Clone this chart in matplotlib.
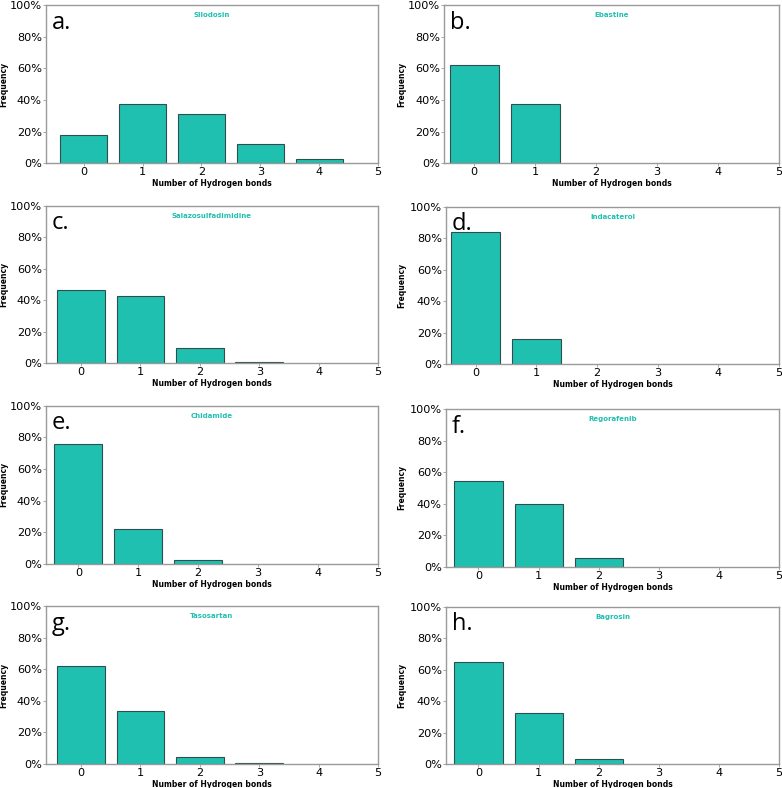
import matplotlib
matplotlib.use('Agg')
import matplotlib.pyplot as plt
from matplotlib.ticker import PercentFormatter

# Hydrogen-bond count distributions (fraction, %), one list per compound
letters = ['a.', 'b.', 'c.', 'd.', 'e.', 'f.', 'g.', 'h.']
names = ['Silodosin', 'Ebastine', 'Salazosulfadimidine', 'Indacaterol',
         'Chidamide', 'Regorafenib', 'Tasosartan', 'Bagrosin']
silodosin = [18.1, 37.3, 31.0, 12.0, 2.6]
ebastine = [62.3, 37.7]
salazosulfadimidine = [46.8, 43.0, 9.6, 0.6]
indacaterol = [84.2, 15.8]
chidamide = [75.8, 21.8, 2.4]
regorafenib = [54.5, 40.0, 5.5]
tasosartan = [61.8, 33.5, 4.3, 0.4]
bagrosin = [64.6, 32.2, 3.2]
series = [silodosin, ebastine, salazosulfadimidine, indacaterol,
          chidamide, regorafenib, tasosartan, bagrosin]
xticks = [0, 1, 2, 3, 4, 5]
yticks = [0, 20, 40, 60, 80, 100]

W, H = 782, 788
# axes boxes in pixels: left, top, right, bottom
boxes = [
    (46, 5, 378, 163.3), (444.3, 5, 779, 163.3),
    (46, 205.7, 378, 363.3), (446, 206.7, 779, 364.3),
    (46, 405.7, 378, 563.7), (446, 409, 779, 566.7),
    (46, 606, 378, 764), (446, 606.7, 779, 764),
]

teal = '#20C0B0'
spine_col = '#9a9a9a'

fig = plt.figure(figsize=(W / 100, H / 100), dpi=100)

for i, vals in enumerate(series):
    l, t, r, b = boxes[i]
    ax = fig.add_axes([l / W, 1 - b / H, (r - l) / W, (b - t) / H])
    ax.bar(range(len(vals)), vals, width=0.8, color=teal,
           edgecolor='#2F4F4F', linewidth=0.8)
    ax.set_xlim(right=5)
    ax.set_ylim(0, 100)
    ax.set_xticks(xticks)
    ax.set_yticks(yticks)
    ax.yaxis.set_major_formatter(PercentFormatter(decimals=0))
    ax.tick_params(labelsize=8.1, length=2, width=0.6, color=spine_col, pad=1.0)
    for s in ax.spines.values():
        s.set_color(spine_col)
        s.set_linewidth(1.0)
    ax.set_xlabel('Number of Hydrogen bonds', fontsize=5.5, fontweight='bold')
    ax.xaxis.set_label_coords(0.5, -16 / (b - t))
    ax.set_ylabel('Frequency', fontsize=5.5, fontweight='bold')
    ax.yaxis.set_label_coords((8 - l + (0 if l < 100 else 398)) / (r - l), 0.5)
    ax.text(0.5, 0.937, names[i], transform=ax.transAxes, ha='center', va='center',
            fontsize=5, fontweight='bold', color=teal)
    ax.text(0.017, 0.85, letters[i], transform=ax.transAxes, ha='left', va='baseline',
            fontsize=17, family=['Open Sans', 'DejaVu Sans'])

fig.savefig('out.png', dpi=100, facecolor='white')
plt.close(fig)
